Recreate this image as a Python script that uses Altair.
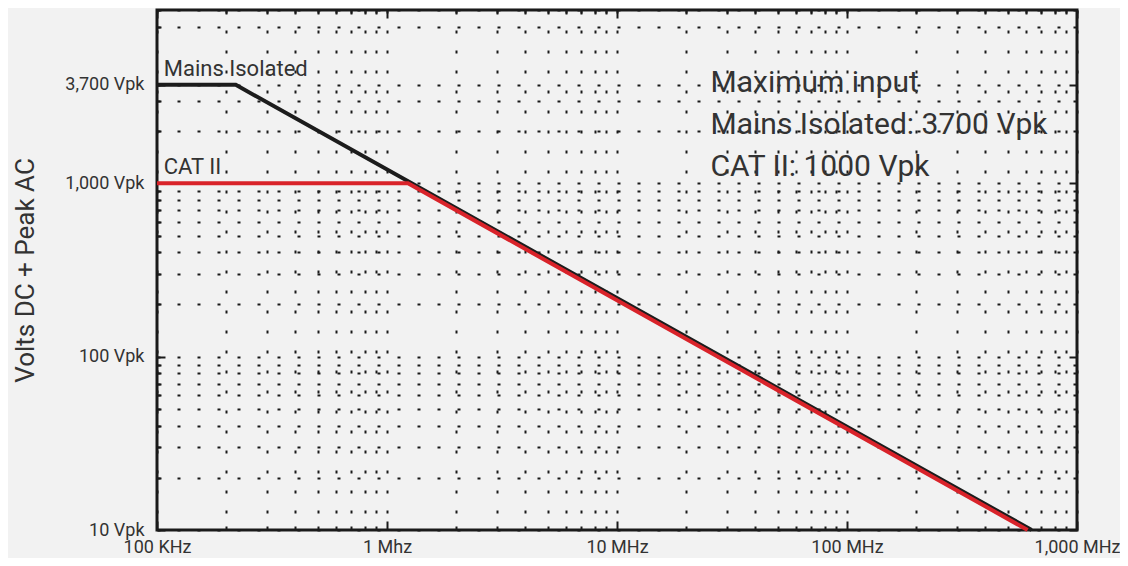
import altair as alt
import pandas as pd

# ---------------- data ----------------
mains_freq = [1e5, 2.2e5, 6.35e8]
mains_volts = [3700, 3700, 10]
cat2_freq = [1e5, 1.234e6, 6.1e8]
cat2_volts = [1000, 1000, 10]

line_label_text = ["Mains Isolated", "CAT II"]
line_label_freq = [1.07e5, 1.07e5]
line_label_volts = [3700, 1000]

note_text = ["Maximum input", "Mains Isolated: 3700 Vpk", "CAT II: 1000 Vpk"]
note_freq = [2.55e7, 2.55e7, 2.55e7]
note_volts = [3380, 1937, 1097]

x_major_vals = [1e5, 1e6, 1e7, 1e8, 1e9]
x_major_labels = ["100 KHz", "1 Mhz", "10 MHz", "100 MHz", "1,000 MHz"]
y_major_vals = [10, 100, 1000, 3700]
y_major_labels = ["10 Vpk", "100 Vpk", "1,000 Vpk", "3,700 Vpk"]

x_grid_vals = [m * d for d in [1e5, 1e6, 1e7, 1e8] for m in range(1, 10)] + [1e9]
y_grid_vals = ([m * 10 for m in range(1, 10)] + [m * 100 for m in range(1, 10)]
               + [1000, 2000, 3000, 3700, 8000, 10000])

# ---------------- tables ----------------
lines_df = pd.DataFrame({
    "series": ["Mains Isolated"] * 3 + ["CAT II"] * 3,
    "freq": mains_freq + cat2_freq,
    "volts": mains_volts + cat2_volts,
    "order": [0, 1, 2, 0, 1, 2],
})
lab_df = pd.DataFrame({"text": line_label_text, "freq": line_label_freq, "volts": line_label_volts})
note_df = pd.DataFrame({"text": note_text, "freq": note_freq, "volts": note_volts})


def label_expr(vals, labels):
    e = "''"
    for v, l in reversed(list(zip(vals, labels))):
        e = f"datum.value == {v:g} ? '{l}' : {e}"
    return e


def major_test(vals):
    return "indexof([" + ",".join(f"{v:g}" for v in vals) + "], datum.value) >= 0"


FONT = "Roboto, Liberation Sans, sans-serif"
INK = "#1a1a1a"
W, H = 920, 520

xs = alt.Scale(type="log", domain=[1e5, 1e9], nice=False)
ys = alt.Scale(type="log", domain=[10, 10000], nice=False)

main_x_axis = alt.Axis(
    orient="bottom", values=x_grid_vals, labelExpr=label_expr(x_major_vals, x_major_labels),
    ticks=False, domain=False, grid=True, gridDash=[3, 17], gridWidth=2, gridColor=INK,
    labelFont=FONT, labelFontSize=18, labelColor="#333", labelPadding=8,
    labelFlush=False, labelOverlap=False, labelBound=False, title=None,
)
main_y_axis = alt.Axis(
    orient="left", values=y_grid_vals, labelExpr=label_expr(y_major_vals, y_major_labels),
    ticks=False, domain=False, grid=True, gridDash=[3, 17], gridWidth=2, gridColor=INK,
    labelFont=FONT, labelFontSize=18, labelColor="#333", labelPadding=13,
    labelFlush=False, labelOverlap=False, labelBound=False,
    title="Volts DC + Peak AC", titleFont="Roboto", titleFontSize=26, titleFontWeight="normal",
    titleColor="#333", titleX=-132, titleY=260, titleAngle=270, titleAlign="center",
    titleBaseline="middle",
)


def tick_axis(orient, offset, vals, majors, big, small):
    return alt.Axis(
        orient=orient, offset=offset, values=vals, labels=False, grid=False, domain=False,
        ticks=True, tickColor=INK, tickWidth=2,
        tickSize={"condition": {"test": major_test(majors), "value": big}, "value": small},
        title=None,
    )


black = alt.Chart(lines_df).transform_filter(alt.datum.series == "Mains Isolated").mark_line(
    color="#1c1c1c", strokeWidth=4
).encode(
    x=alt.X("freq:Q", scale=xs, axis=main_x_axis),
    y=alt.Y("volts:Q", scale=ys, axis=main_y_axis),
    order="order:Q",
)

red = alt.Chart(lines_df).transform_filter(alt.datum.series == "CAT II").mark_line(
    color="#d9232a", strokeWidth=4
).encode(
    x=alt.X("freq:Q", scale=xs, axis=None),
    y=alt.Y("volts:Q", scale=ys, axis=None),
    order="order:Q",
)

labels = alt.Chart(lab_df).mark_text(
    align="left", baseline="bottom", dy=-4, font=FONT, fontSize=22, color="#333"
).encode(
    x=alt.X("freq:Q", scale=xs, axis=tick_axis("top", -H, x_grid_vals, x_major_vals, 9, 4)),
    y=alt.Y("volts:Q", scale=ys, axis=tick_axis("right", -W, y_grid_vals, y_major_vals, 8, 4)),
    text="text:N",
)

notes = alt.Chart(note_df).mark_text(
    align="left", baseline="alphabetic", font="Roboto", fontSize=30, color="#333"
).encode(
    x=alt.X("freq:Q", scale=xs, axis=tick_axis("bottom", -H, x_grid_vals, x_major_vals, 8, 4)),
    y=alt.Y("volts:Q", scale=ys, axis=tick_axis("left", -W, y_grid_vals, y_major_vals, 8, 4)),
    text="text:N",
)

chart = alt.layer(black, red, labels, notes).resolve_axis(
    x="independent", y="independent"
).properties(
    width=W, height=H,
    autosize=alt.AutoSizeParams(type="none"),
    padding={"left": 149, "top": 2, "right": 43, "bottom": 28},
    background="#f2f2f2",
).configure_view(
    stroke=INK, strokeWidth=3, fill=None
)

chart.save("out.html", embed_options={"renderer": "svg", "actions": False})
